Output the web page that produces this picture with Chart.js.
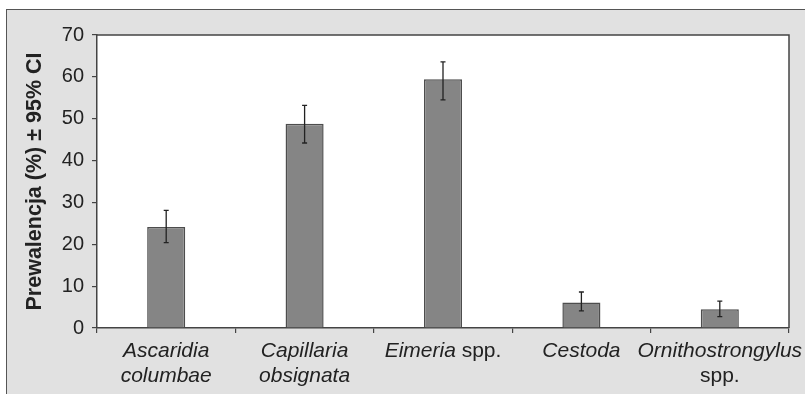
<!DOCTYPE html>
<html>
<head>
<meta charset="utf-8">
<script src="https://cdn.jsdelivr.net/npm/chart.js@4.4.1/dist/chart.umd.min.js"></script>
<style>
  html, body { margin: 0; padding: 0; background: #fff; overflow: hidden; }
  #frame {
    position: absolute; left: 6px; top: 9px; width: 900px; height: 500px;
    background: #e1e1e1; border: 1.5px solid #555;
  }
  #graph { position: absolute; left: 0; top: 0; }
</style>
</head>
<body>
<div id="frame"></div>
<canvas id="graph" width="805" height="394"></canvas>
<script>
// categories (each label line is a list of [text, italic] parts)
var labelLines = [
  [[["Ascaridia", true]], [["columbae", true]]],
  [[["Capillaria", true]], [["obsignata", true]]],
  [[["Eimeria", true], [" spp.", false]]],
  [[["Cestoda", true]]],
  [[["Ornithostrongylus", true]], [["spp.", false]]]
];
var categories = ["Ascaridia columbae", "Capillaria obsignata", "Eimeria spp.", "Cestoda", "Ornithostrongylus spp."];
var prevalence = [24.1, 48.8, 59.4, 6.1, 4.5];
var ciLow = [20.4, 44.2, 54.5, 4.1, 2.7];
var ciHigh = [28.1, 53.2, 63.6, 8.6, 6.4];
var yTicks = [0, 10, 20, 30, 40, 50, 60, 70];

var FONT = "'Liberation Sans', Arial, sans-serif";
var INK = "#222";

var plotFrame = {
  id: "plotFrame",
  beforeDraw: function(chart) {
    var a = chart.chartArea, ctx = chart.ctx;
    ctx.save();
    ctx.fillStyle = "#fff";
    ctx.fillRect(a.left, a.top, a.right - a.left, a.bottom - a.top);
    ctx.restore();
  },
  afterDraw: function(chart) {
    var a = chart.chartArea, ctx = chart.ctx;
    ctx.save();
    ctx.strokeStyle = "#444";
    ctx.lineWidth = 1.5;
    ctx.beginPath();
    ctx.moveTo(a.left, a.top);
    ctx.lineTo(a.right, a.top);
    ctx.lineTo(a.right, a.bottom);
    ctx.stroke();
    ctx.restore();
  }
};

var errorBars = {
  id: "errorBars",
  afterDatasetsDraw: function(chart) {
    var ctx = chart.ctx, y = chart.scales.y;
    var meta = chart.getDatasetMeta(0);
    ctx.save();
    ctx.strokeStyle = INK;
    ctx.lineWidth = 1.3;
    for (var i = 0; i < meta.data.length; i++) {
      var x = meta.data[i].x;
      var yl = y.getPixelForValue(ciLow[i]);
      var yh = y.getPixelForValue(ciHigh[i]);
      ctx.beginPath();
      ctx.moveTo(x, yl); ctx.lineTo(x, yh);
      ctx.moveTo(x - 2.5, yl); ctx.lineTo(x + 2.5, yl);
      ctx.moveTo(x - 2.5, yh); ctx.lineTo(x + 2.5, yh);
      ctx.stroke();
    }
    ctx.restore();
  }
};

var xLabels = {
  id: "xLabels",
  afterDraw: function(chart) {
    var ctx = chart.ctx, xs = chart.scales.x;
    ctx.save();
    ctx.fillStyle = INK;
    ctx.textBaseline = "alphabetic";
    ctx.textAlign = "left";
    for (var i = 0; i < labelLines.length; i++) {
      var cx = xs.getPixelForValue(i);
      var lines = labelLines[i];
      for (var l = 0; l < lines.length; l++) {
        var parts = lines[l], w = 0, p;
        for (p = 0; p < parts.length; p++) {
          ctx.font = (parts[p][1] ? "italic " : "") + "21px " + FONT;
          w += ctx.measureText(parts[p][0]).width;
        }
        var x = cx - w / 2, by = 357 + l * 25;
        for (p = 0; p < parts.length; p++) {
          ctx.font = (parts[p][1] ? "italic " : "") + "21px " + FONT;
          ctx.fillText(parts[p][0], x, by);
          x += ctx.measureText(parts[p][0]).width;
        }
      }
    }
    ctx.restore();
  }
};

new Chart(document.getElementById("graph"), {
  type: "bar",
  data: {
    labels: categories,
    datasets: [{
      data: prevalence,
      backgroundColor: "#858585",
      borderColor: "#4d4d4d",
      borderWidth: 1.5,
      categoryPercentage: 1,
      barPercentage: 0.275
    }]
  },
  options: {
    responsive: false,
    animation: false,
    layout: { padding: { left: 0, top: 35, right: 16, bottom: 0 } },
    plugins: { legend: { display: false }, tooltip: { enabled: false } },
    scales: {
      x: {
        grid: { offset: true, drawOnChartArea: false, drawTicks: true, tickLength: 5, color: "#444", lineWidth: 1.2 },
        border: { display: true, color: "#444", width: 1.5 },
        ticks: { display: false },
        afterFit: function(s) { s.height = 66; }
      },
      y: {
        min: 0, max: 70,
        afterBuildTicks: function(s) { s.ticks = yTicks.map(function(v) { return { value: v }; }); },
        grid: { drawOnChartArea: false, drawTicks: true, tickLength: 5, color: "#444", lineWidth: 1.2 },
        border: { display: true, color: "#444", width: 1.5 },
        ticks: { color: INK, padding: 8, font: { family: FONT, size: 20 } },
        title: {
          display: true,
          text: "Prewalencja (%) ± 95% CI",
          color: INK,
          font: { family: FONT, size: 21.5, weight: "bold" },
          padding: { top: 22, bottom: 0 }
        },
        afterFit: function(s) { s.width = 97; }
      }
    }
  },
  plugins: [plotFrame, errorBars, xLabels]
});
</script>
</body>
</html>
